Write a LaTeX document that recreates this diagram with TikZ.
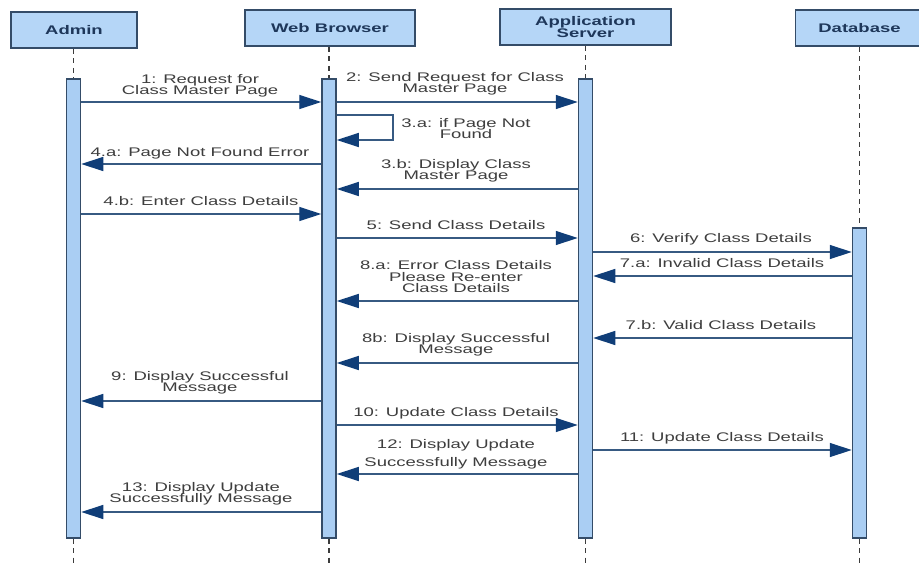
\documentclass[tikz,border=0pt]{standalone}
\usepackage{fontspec}
\setmainfont[FakeStretch=1.48]{Liberation Sans}
\usetikzlibrary{arrows.meta}
\definecolor{boxfill}{RGB}{181,214,247}
\definecolor{barfill}{RGB}{170,206,243}
\definecolor{boxborder}{RGB}{52,76,104}
\definecolor{msgline}{RGB}{55,90,130}
\definecolor{tipcol}{RGB}{16,62,120}
\definecolor{lbltext}{RGB}{62,62,62}
\definecolor{hdrtext}{RGB}{30,55,90}
\definecolor{lifecol}{RGB}{60,60,60}
\newcommand{\lblfont}{\fontsize{12.5}{11.8}\selectfont}
\tikzset{
  hdr/.style={draw=boxborder, line width=1.6pt, fill=boxfill, minimum height=36pt,
    font=\lblfont\bfseries, text=hdrtext, align=center, inner sep=0pt},
  actbar/.style={draw=boxborder, line width=1.5pt, fill=barfill, minimum width=14pt,
    anchor=north, inner sep=0pt},
  lifeline/.style={draw=lifecol, line width=1.5pt, dash pattern=on 5pt off 4.5pt},
  msg/.style={draw=msgline, line width=1.3pt,
    -{Triangle[length=22pt, width=14pt, color=tipcol, fill=tipcol]}},
  lbl/.style={font=\lblfont, text=lbltext, align=center, inner sep=0pt,
    text depth=0pt, anchor=south}
}
\begin{document}
\begin{tikzpicture}[x=1pt, y=-1pt]
\clip (0,0) rectangle (919,565);
\fill[white] (0,0) rectangle (919,565);
% headers
\node[hdr, minimum width=126pt] (admin) at (74,30) {Admin};
\node[hdr, minimum width=170pt] (web) at (330,28) {Web Browser};
\node[hdr, minimum width=171pt] (app) at (585.5,27) {Application\\Server};
\node[hdr, minimum width=128pt] (db) at (859.5,28) {Database};
% activation bars
\node[actbar, minimum height=459pt] (abar) at (73.5,78) {};
\node[actbar, minimum height=459pt] (wbar) at (329,78) {};
\node[actbar, minimum height=459pt] (sbar) at (585.5,78) {};
\node[actbar, minimum height=310pt] (dbar) at (859.5,227) {};
% bottom end points of lifelines
\coordinate (aend) at (73.5,566);
\coordinate (wend) at (329,566);
\coordinate (send) at (585.5,566);
\coordinate (dend) at (859.5,566);
% lifelines
\draw[lifeline] (admin.south -| abar.north) -- (abar.north);
\draw[lifeline] (web.south -| wbar.north) -- (wbar.north);
\draw[lifeline] (app.south -| sbar.north) -- (sbar.north);
\draw[lifeline] (db.south -| dbar.north) -- (dbar.north);
\draw[lifeline] (abar.south) -- (aend);
\draw[lifeline] (wbar.south) -- (wend);
\draw[lifeline] (sbar.south) -- (send);
\draw[lifeline] (dbar.south) -- (dend);
% redraw bars on top
\node[actbar, minimum height=459pt] at (73.5,78) {};
\node[actbar, minimum height=459pt] at (329,78) {};
\node[actbar, minimum height=459pt] at (585.5,78) {};
\node[actbar, minimum height=310pt] at (859.5,227) {};
% messages
\draw[msg] (abar.east |- 0,102) -- (wbar.west |- 0,102);
\node[lbl] (l1) at (200,95) {1: Request for\\Class Master Page};
\draw[msg] (wbar.east |- 0,102) -- (sbar.west |- 0,102);
\node[lbl] (l2) at (455,93) {2: Send Request for Class\\Master Page};
\coordinate (loopa) at (393,115);
\coordinate (loopb) at (393,140);
\draw[msg] (wbar.east |- loopa) -- (loopa) -- (loopb) -- (wbar.east |- loopb);
\node[lbl] (l3a) at (466,139) {3.a: if Page Not\\Found};
\draw[msg] (wbar.west |- 0,164) -- (abar.east |- 0,164);
\node[lbl] (l4a) at (200,157) {4.a: Page Not Found Error};
\draw[msg] (sbar.west |- 0,189) -- (wbar.east |- 0,189);
\node[lbl] (l3b) at (456,180) {3.b: Display Class\\Master Page};
\draw[msg] (abar.east |- 0,214) -- (wbar.west |- 0,214);
\node[lbl] (l4b) at (201,206) {4.b: Enter Class Details};
\draw[msg] (wbar.east |- 0,238) -- (sbar.west |- 0,238);
\node[lbl] (l5) at (456,230) {5: Send Class Details};
\draw[msg] (sbar.east |- 0,252) -- (dbar.west |- 0,252);
\node[lbl] (l6) at (721,243) {6: Verify Class Details};
\draw[msg] (dbar.west |- 0,276) -- (sbar.east |- 0,276);
\node[lbl] (l7a) at (722,268) {7.a: Invalid Class Details};
\draw[msg] (sbar.west |- 0,301) -- (wbar.east |- 0,301);
\node[lbl] (l8a) at (456,293) {8.a: Error Class Details\\Please Re-enter\\Class Details};
\draw[msg] (dbar.west |- 0,338) -- (sbar.east |- 0,338);
\node[lbl] (l7b) at (721,330) {7.b: Valid Class Details};
\draw[msg] (sbar.west |- 0,363) -- (wbar.east |- 0,363);
\node[lbl] (l8b) at (456,354) {8b: Display Successful\\Message};
\draw[msg] (wbar.west |- 0,401) -- (abar.east |- 0,401);
\node[lbl] (l9) at (200,392) {9: Display Successful\\Message};
\draw[msg] (wbar.east |- 0,425) -- (sbar.west |- 0,425);
\node[lbl] (l10) at (456,417) {10: Update Class Details};
\draw[msg] (sbar.east |- 0,450) -- (dbar.west |- 0,450);
\node[lbl] (l11) at (722,442) {11: Update Class Details};
\draw[msg] (sbar.west |- 0,474) -- (wbar.east |- 0,474);
\node[lbl] (l12) at (456,467) {12: Display Update\\[7pt]Successfully Message};
\draw[msg] (wbar.west |- 0,512) -- (abar.east |- 0,512);
\node[lbl] (l13) at (201,503) {13: Display Update\\Successfully Message};
\end{tikzpicture}
\end{document}
